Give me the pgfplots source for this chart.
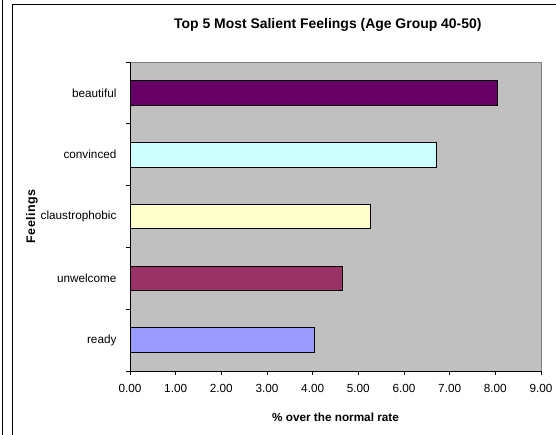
\documentclass[border=0pt]{standalone}
\usepackage{pgfplots}
\pgfplotsset{compat=1.18}
\usepackage{fontspec}
\setmainfont{Liberation Sans}
\definecolor{plotgray}{HTML}{C0C0C0}
\definecolor{cBeautiful}{HTML}{660066}
\definecolor{cConvinced}{HTML}{CCFFFF}
\definecolor{cClaus}{HTML}{FFFFCC}
\definecolor{cUnwelcome}{HTML}{993366}
\definecolor{cReady}{HTML}{9999FF}
\begin{document}
\begin{tikzpicture}[x=1bp,y=1bp]
\path[use as bounding box] (0,0) rectangle (556,435);
\draw[line width=1bp] (2.5,435) -- (2.5,0);
\draw[line width=1bp] (12.5,0) -- (12.5,430.5) -- (556,430.5);
\begin{axis}[
  at={(130bp,64bp)}, anchor=south west,
  scale only axis, width=411bp, height=309bp,
  xmin=0, xmax=9, ymin=-0.5, ymax=4.5,
  axis lines*=left,
  axis line style={black, line width=0.8bp},
  axis background/.style={fill=plotgray, draw=gray, line width=0.8bp},
  xtick={0,1,...,9},
  xticklabel style={font=\fontsize{11.8}{13}\selectfont, yshift=-5.5bp},
  /pgf/number format/.cd, fixed, fixed zerofill, precision=2, assume math mode=true,
  /pgfplots/.cd,
  x tick style={black, line width=0.8bp},
  tick align=outside,
  major tick length=4bp,
  ytick={0,1,2,3,4},
  yticklabels={ready,unwelcome,claustrophobic,convinced,beautiful},
  y tick style={draw=none},
  yticklabel style={font=\fontsize{11.8}{13}\selectfont, xshift=-6bp},
  extra y ticks={-0.5,0.5,1.5,2.5,3.5,4.5},
  extra y tick labels={},
  extra y tick style={y tick style={draw=black, line width=0.8bp}},
  xlabel={\% over the normal rate},
  xlabel style={font=\bfseries\fontsize{11.8}{13}\selectfont, at={(axis description cs:0.5,-0.1489)}, anchor=center},
  ylabel={Feelings},
  ylabel style={font=\bfseries\fontsize{12.5}{13}\selectfont\addfontfeatures{LetterSpace=3}, at={(axis description cs:-0.2384,0.5)}, anchor=center},
  title={Top 5 Most Salient Feelings (Age Group 40-50)},
  title style={font=\bfseries\fontsize{14}{15}\selectfont, at={(axis description cs:0.4813,1.0906)}, anchor=base},
  xbar, bar width=0.4,
]
\addplot[xbar, bar shift=0pt, fill=cReady, draw=black, line width=0.8bp] coordinates {(4.03,0)};
\addplot[xbar, bar shift=0pt, fill=cUnwelcome, draw=black, line width=0.8bp] coordinates {(4.65,1)};
\addplot[xbar, bar shift=0pt, fill=cClaus, draw=black, line width=0.8bp] coordinates {(5.26,2)};
\addplot[xbar, bar shift=0pt, fill=cConvinced, draw=black, line width=0.8bp] coordinates {(6.70,3)};
\addplot[xbar, bar shift=0pt, fill=cBeautiful, draw=black, line width=0.8bp] coordinates {(8.05,4)};
\end{axis}
\end{tikzpicture}
\end{document}
